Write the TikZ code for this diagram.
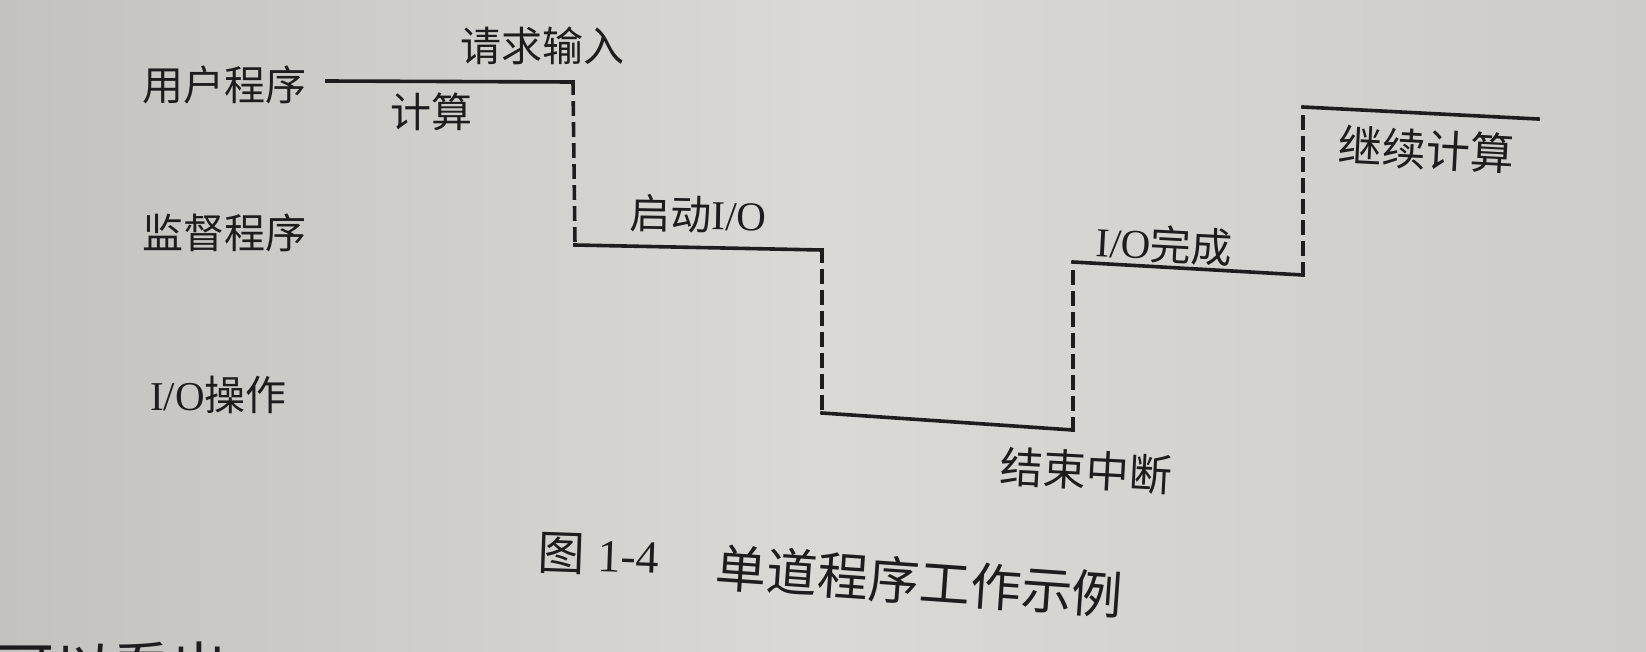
\documentclass[tikz,border=0pt]{standalone}
\usepackage{fontspec}
\setmainfont{Liberation Serif}
\newfontfamily\cjk{Noto Sans CJK SC}
\definecolor{paperL}{RGB}{196,194,191}
\definecolor{paperM}{RGB}{219,217,213}
\definecolor{paperR}{RGB}{206,204,201}
\definecolor{ink}{RGB}{30,28,28}
\newcommand{\io}{{\rmfamily I/O}}
\begin{document}
\begin{tikzpicture}[x=1pt,y=-1pt,
  lbl/.style={inner sep=0pt, anchor=west, text=ink, font=\fontsize{41}{41}\selectfont\cjk},
  solidseg/.style={draw=ink, line width=3.6pt, line cap=rect},
  dashseg/.style={draw=ink, line width=3.6pt, line cap=rect, dash pattern=on 11pt off 10pt}
]
\useasboundingbox (0,0) rectangle (1646,651);
\shade[left color=paperL, right color=paperR, middle color=paperM] (0,0) rectangle (1646,651);

% row labels
\node[lbl] (user) at (142,85) {用户程序};
\node[lbl] (monitor) at (142,233) {监督程序};
\node[lbl] (iop) at (150,395) {\io 操作};

% step path corners
\coordinate (a0) at (327,81);
\coordinate (a1) at (573,82);
\coordinate (b0) at (575,245);
\coordinate (b1) at (822,250);
\coordinate (c0) at (822,413);
\coordinate (c1) at (1073,430);
\coordinate (d0) at (1073,262);
\coordinate (d1) at (1303,275);
\coordinate (e0) at (1303,107);
\coordinate (e1) at (1538,119);

\draw[solidseg] (a0) -- (a1);
\draw[dashseg] (a1) -- (b0);
\draw[solidseg] (b0) -- (b1);
\draw[dashseg] (b1) -- (c0);
\draw[solidseg] (c0) -- (c1);
\draw[dashseg] (c1) -- (d0);
\draw[solidseg] (d0) -- (d1);
\draw[dashseg] (d1) -- (e0);
\draw[solidseg] (e0) -- (e1);

% segment labels
\node[lbl] (req) at (460,46) {请求输入};
\node[lbl] (calc) at (390,112) {计算};
\node[lbl, rotate=-1] (start) at (630,213) {启动\io};
\node[lbl, font=\fontsize{43}{43}\selectfont\cjk, rotate=-3] (endint) at (1000,466) {结束中断};
\node[lbl, rotate=-3] (done) at (1096,241) {\io 完成};
\node[lbl, font=\fontsize{44}{44}\selectfont\cjk, rotate=-3] (cont) at (1338,145) {继续计算};

% caption
\node[lbl, font=\fontsize{47}{47}\selectfont\cjk, rotate=-2] (fig) at (538,553) {图};
\node[lbl, font=\fontsize{46}{46}\selectfont\rmfamily, rotate=-2] (num) at (598,556) {1-4};
\node[lbl, font=\fontsize{51}{51}\selectfont\cjk, rotate=-4] (title) at (716,567) {单道程序工作示例};

% cut-off body text at the bottom edge (as in the reference)
\begin{scope}
\clip (0,0) rectangle (1646,651);
\node[inner sep=0pt, anchor=base west, text=ink, font=\fontsize{58}{58}\selectfont\cjk] (body) at (-4,690) {可以看出，};
\end{scope}
\end{tikzpicture}
\end{document}
